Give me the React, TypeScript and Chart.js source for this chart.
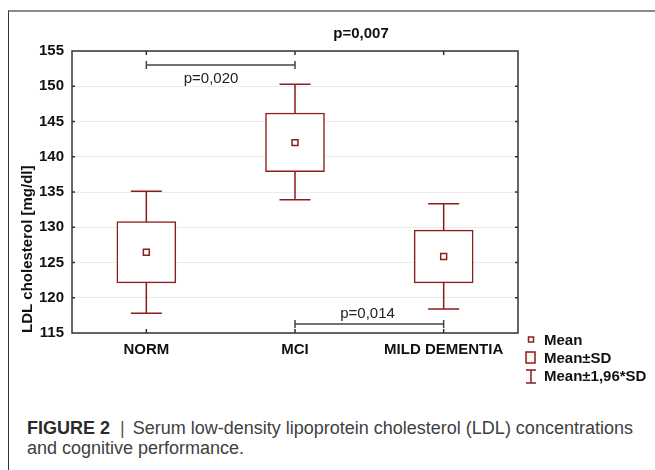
import React, { useEffect, useRef } from 'react';
import { Chart, registerables } from 'chart.js';

Chart.register(...registerables);

const categories = ['NORM', 'MCI', 'MILD DEMENTIA'];
const means = [126.45, 142.0, 125.85];
const sdLow = [122.1, 137.9, 122.1];
const sdHigh = [130.8, 146.2, 129.6];
const ciLow = [117.8, 133.9, 118.4];
const ciHigh = [135.1, 150.3, 133.35];
const yMin = 115;
const yMax = 155;
const yStep = 5;
const legendLabels = ['Mean', 'Mean±SD', 'Mean±1,96*SD'];
const brackets = [
  { from: 0, to: 1, y: 153.0, label: 'p=0,020', labelX: 0.435, labelY: 151.0 },
  { from: 1, to: 2, y: 116.27, label: 'p=0,014', labelX: 1.488, labelY: 117.77 },
];
const overall = { label: 'p=0,007', x: 1.444, y: 157.42 };
const yTitle = 'LDL cholesterol [mg/dl]';

const RED = '#8c1d1d';
const FONT = '"Liberation Sans", Arial, sans-serif';

const overlayPlugin = {
  id: 'overlay',
  beforeDatasetsDraw(chart: any) {
    const { ctx } = chart;
    const xs = chart.scales.x;
    const ys = chart.scales.y;
    ctx.save();
    ctx.strokeStyle = RED;
    ctx.lineWidth = 1.5;
    categories.forEach((_, i) => {
      const x = xs.getPixelForValue(i);
      const yl = ys.getPixelForValue(ciLow[i]);
      const yh = ys.getPixelForValue(ciHigh[i]);
      ctx.beginPath();
      ctx.moveTo(x, yl);
      ctx.lineTo(x, yh);
      ctx.moveTo(x - 15.5, yl);
      ctx.lineTo(x + 15.5, yl);
      ctx.moveTo(x - 15.5, yh);
      ctx.lineTo(x + 15.5, yh);
      ctx.stroke();
    });
    ctx.restore();
  },
  afterDatasetsDraw(chart: any) {
    const { ctx, chartArea } = chart;
    const { left, right, top, bottom } = chartArea;
    const xs = chart.scales.x;
    const ys = chart.scales.y;
    ctx.save();
    // frame
    ctx.strokeStyle = '#333';
    ctx.lineWidth = 1.5;
    ctx.strokeRect(left, top, right - left, bottom - top);
    // inside ticks
    ctx.beginPath();
    categories.forEach((_, i) => {
      const x = xs.getPixelForValue(i);
      ctx.moveTo(x, top);
      ctx.lineTo(x, top + 4);
      ctx.moveTo(x, bottom);
      ctx.lineTo(x, bottom - 4);
    });
    for (let v = yMin + yStep; v < yMax; v += yStep) {
      const y = ys.getPixelForValue(v);
      ctx.moveTo(left, y);
      ctx.lineTo(left + 3, y);
      ctx.moveTo(right, y);
      ctx.lineTo(right - 3, y);
    }
    ctx.stroke();

    // brackets
    ctx.strokeStyle = '#444';
    ctx.lineWidth = 1.5;
    ctx.fillStyle = '#222';
    ctx.font = `15px ${FONT}`;
    ctx.textAlign = 'center';
    ctx.textBaseline = 'middle';
    brackets.forEach((b) => {
      const x1 = xs.getPixelForValue(b.from);
      const x2 = xs.getPixelForValue(b.to);
      const y = ys.getPixelForValue(b.y);
      ctx.beginPath();
      ctx.moveTo(x1, y);
      ctx.lineTo(x2, y);
      ctx.moveTo(x1, y - 4);
      ctx.lineTo(x1, y + 4);
      ctx.moveTo(x2, y - 4);
      ctx.lineTo(x2, y + 4);
      ctx.stroke();
      const lx = xs.left + ((b.labelX + 0.5) * (xs.right - xs.left)) / categories.length;
      ctx.fillText(b.label, lx, ys.getPixelForValue(b.labelY));
    });
    // overall p
    ctx.font = `bold 15px ${FONT}`;
    ctx.fillStyle = '#111';
    const ox = xs.left + ((overall.x + 0.5) * (xs.right - xs.left)) / categories.length;
    ctx.fillText(overall.label, ox, ys.getPixelForValue(overall.y));

    // y title
    ctx.save();
    ctx.translate(20, bottom);
    ctx.rotate(-Math.PI / 2);
    ctx.textAlign = 'left';
    ctx.textBaseline = 'middle';
    ctx.font = `bold 15px ${FONT}`;
    ctx.fillStyle = '#111';
    ctx.fillText(yTitle, 0, 0);
    ctx.restore();

    // legend
    const lx = right + 13;
    const tx = right + 26;
    ctx.strokeStyle = RED;
    ctx.lineWidth = 1.5;
    ctx.fillStyle = '#fff';
    ctx.fillRect(lx - 2.5, bottom + 4, 5, 5);
    ctx.strokeRect(lx - 2.5, bottom + 4, 5, 5);
    ctx.fillStyle = '#fcf6ec';
    ctx.fillRect(lx - 5, bottom + 19, 9, 11);
    ctx.strokeRect(lx - 5, bottom + 19, 9, 11);
    ctx.beginPath();
    ctx.moveTo(lx - 5, bottom + 37);
    ctx.lineTo(lx + 5, bottom + 37);
    ctx.moveTo(lx, bottom + 37);
    ctx.lineTo(lx, bottom + 50);
    ctx.moveTo(lx - 5, bottom + 50);
    ctx.lineTo(lx + 5, bottom + 50);
    ctx.stroke();
    ctx.fillStyle = '#111';
    ctx.font = `bold 15px ${FONT}`;
    ctx.textAlign = 'left';
    ctx.textBaseline = 'middle';
    const ly = [bottom + 8, bottom + 26, bottom + 44];
    legendLabels.forEach((t, i) => ctx.fillText(t, tx, ly[i]));
    ctx.restore();
  },
};

export default function App() {
  const ref = useRef<HTMLCanvasElement | null>(null);
  useEffect(() => {
    if (!ref.current) return;
    const chart = new Chart(ref.current, {
      type: 'bar',
      data: {
        labels: categories,
        datasets: [
          {
            type: 'line',
            data: means,
            showLine: false,
            pointStyle: 'rect',
            pointRadius: 4.2,
            pointHoverRadius: 4.2,
            pointBackgroundColor: '#fff',
            pointBorderColor: RED,
            pointBorderWidth: 1.5,
            order: 1,
          } as any,
          {
            type: 'bar',
            data: categories.map((_, i) => [sdLow[i], sdHigh[i]]),
            backgroundColor: '#fff',
            borderColor: RED,
            borderWidth: 1.5,
            borderSkipped: false,
            barThickness: 59,
            order: 2,
          } as any,
        ],
      },
      options: {
        animation: false,
        responsive: true,
        maintainAspectRatio: false,
        layout: { padding: { left: 0, right: 137, top: 43, bottom: 27 } },
        plugins: { legend: { display: false }, tooltip: { enabled: false } },
        scales: {
          x: {
            grid: { display: false, drawTicks: false },
            border: { display: false },
            ticks: { font: { family: FONT, size: 15, weight: 'bold' }, color: '#111', padding: 8 },
            afterFit: (s: any) => {
              s.height = 40;
            },
          },
          y: {
            min: yMin,
            max: yMax,
            grid: { color: '#ececec', drawTicks: false, lineWidth: 1 },
            border: { display: false },
            ticks: { stepSize: yStep, font: { family: FONT, size: 15, weight: 'bold' }, color: '#111', padding: 8 },
            afterFit: (s: any) => {
              s.width = 64;
            },
          },
        },
      } as any,
      plugins: [overlayPlugin],
    });
    return () => chart.destroy();
  }, []);

  return (
    <div style={{ position: 'fixed', left: 0, top: 0, width: 655, height: 470, overflow: 'hidden', background: '#fff' }}>
      <div
        style={{
          position: 'absolute',
          left: 8,
          top: 10,
          width: 700,
          height: 500,
          borderTop: '2px solid #8a8a8a',
          borderLeft: '1.5px solid #333',
          boxSizing: 'border-box',
        }}
      />
      <div style={{ position: 'absolute', left: 8, top: 8, width: 647, height: 392 }}>
        <canvas ref={ref} />
      </div>
      <div
        style={{
          position: 'absolute',
          left: 27,
          top: 418,
          font: `18px ${FONT}`,
          lineHeight: '20px',
          color: '#404040',
          whiteSpace: 'nowrap',
        }}
      >
        <span style={{ fontWeight: 'bold', color: '#2b2b2b' }}>FIGURE 2</span>
        <span style={{ margin: '0 8px 0 10px', color: '#555' }}>|</span>
        Serum low-density lipoprotein cholesterol (LDL) concentrations
        <br />
        and cognitive performance.
      </div>
    </div>
  );
}
